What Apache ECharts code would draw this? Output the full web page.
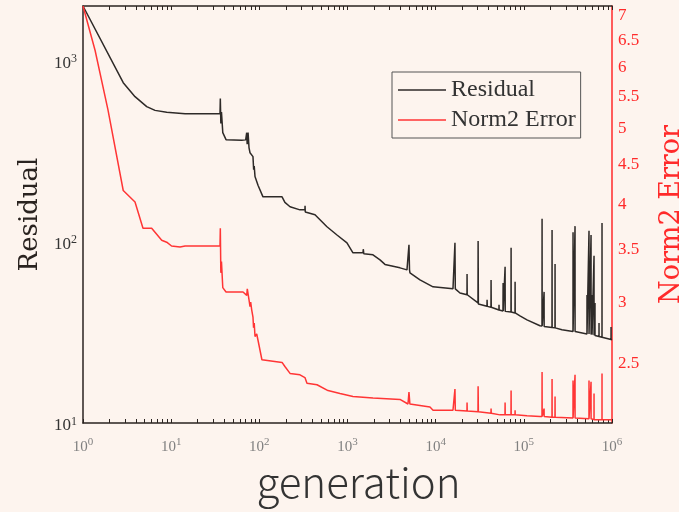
<!DOCTYPE html>
<html>
<head>
<meta charset="utf-8">
<script src="https://cdn.jsdelivr.net/npm/echarts@6/dist/echarts.min.js"></script>
<style>
html,body{margin:0;padding:0;background:#fdf4ee;}
#c{width:679px;height:512px;}
</style>
</head>
<body>
<div id="c"></div>
<script>
// ---- data ----
const resGen = [1,2.86,3.89,5.28,6.56,8.9,14.4,35.8,36.1,36.6,37.2,38.5,41.9,63.1,70,71.9,72.8,74.5,76.4,78.4,84.7,86.2,87.5,89.3,93.4,96.6,110,181,195,223,289,329,330,332,428,585,760,986,1154,1500,1510,1530,1945,2336,2661,3938,4728,4980,5050,5112,6637,9330,15720,16550,16700,18870,22660,22700,22800,30190,30300,30500,38200,38300,38500,42400,42500,42700,52200,52300,52500,58000,58200,58400,61100,61300,61500,71500,71700,71900,79400,79600,79800,90400,108600,152500,160700,161000,161500,169400,169700,170000,208600,209000,209500,225600,226000,226500,270800,361000,361500,362000,380300,380800,381300,520000,520500,521000,548000,548500,549000,578000,578500,579000,593000,593500,594000,625000,625500,626000,641000,641500,642000,712000,712500,713000,770000,770500,771000,975000,975500,976000,1000000];
const resVal = [2000,755,632,557,531,518,508,508,617,450,520,400,366,363,365,400,345,400,330,310,295,250,262,229,225,205,177,177,165,156,150,150,158,146,141,121,109,98.7,86.9,86.9,91,86,84.7,79.5,75,71.8,70,96.2,70,67.4,61.6,56.4,55,98.7,55,52.2,51,66.5,51,46,101,45.4,44.1,47.8,44,43.5,61.6,43.5,42,44.9,42,41.5,59.3,41.5,41.3,72.8,41.3,41,92.7,41,40.5,60.1,40.5,39,37.1,34.4,34.3,134,34.3,34.1,52.9,34.1,33.6,116,33.6,33.5,75.5,33.5,32.7,32,113,32,32,122,32,31,50.9,31,31,115,31,30.8,109,30.8,30.7,50.9,30.7,30.5,83.7,30.5,30.4,46,30.4,30,35.6,30,29.7,127,29.7,28.9,33.9,28.9,28.8];

const errGen = [1,1.37,1.92,2.86,3.89,4.79,6.01,7.81,8.9,10.1,12.6,14.4,35.8,36.1,36.6,37.2,38.5,41.9,65.3,72,73,76.4,78.4,79.8,82,84.7,86,87.5,89.3,93.4,96.6,107,181,195,223,289,329,347,451,601,822,1154,1945,3938,4853,4980,5100,8620,9330,15720,16550,16700,22660,22700,22800,30190,30300,30500,42400,42500,42700,53700,61100,61300,61500,71500,71700,71900,79400,79600,79800,108600,152500,160700,161000,161500,169400,169700,170000,208600,209000,209500,225600,226000,226500,361000,361500,362000,380300,380800,381300,548000,548500,549000,578000,578500,579000,625000,625500,626000,770000,770500,771000,1000000];
const errVal = [7.19,6.31,5.29,4.17,4.03,3.73,3.73,3.60,3.58,3.54,3.53,3.54,3.54,3.73,3.27,3.38,3.13,3.09,3.09,3.06,3.12,3.02,2.96,3.0,2.93,2.87,2.78,2.82,2.71,2.73,2.68,2.53,2.51,2.48,2.43,2.42,2.40,2.36,2.35,2.31,2.29,2.27,2.26,2.25,2.22,2.30,2.22,2.20,2.18,2.18,2.32,2.18,2.175,2.23,2.175,2.17,2.34,2.17,2.16,2.19,2.16,2.15,2.15,2.23,2.15,2.15,2.31,2.15,2.15,2.18,2.15,2.145,2.14,2.14,2.44,2.14,2.14,2.19,2.14,2.135,2.39,2.135,2.135,2.27,2.135,2.13,2.38,2.13,2.13,2.42,2.13,2.125,2.38,2.125,2.125,2.37,2.125,2.12,2.29,2.12,2.12,2.43,2.12,2.12];

// axis ranges and tick labels
const xRange = [1, 1e6];
const resRange = [10, 2000];
const errRange = [2.099, 7.19];
const xDecades = [0,1,2,3,4,5,6];
const xMinorMult = [1,2,3,4,5,6,7,8,9];
const errTicks = [2.5,3,3.5,4,4.5,5,5.5,6,6.5,7];

// ---- build options ----
const L = Math.log10;
const xTickPos = [];
xDecades.forEach(d => {
  if (d === 6) { xTickPos.push(6); return; }
  xMinorMult.forEach(m => xTickPos.push(d + L(m)));
});
const pow10Label = (v) => '{b|10}{s|' + Math.round(v) + '}';

const chart = echarts.init(document.getElementById('c'), null, {renderer: 'canvas'});
const serif = 'Liberation Serif';
const xAxisCommon = {
  type: 'value', min: L(xRange[0]), max: L(xRange[1]), interval: 1,
  axisLine: {show: true, onZero: false, lineStyle: {color: '#2a2320', width: 1.5}},
  axisTick: {show: true, inside: true, length: 4, customValues: xTickPos, lineStyle: {color: '#2a2320', width: 1}},
  splitLine: {show: false}
};
chart.setOption({
  animation: false,
  backgroundColor: '#fdf4ee',
  grid: {left: 83, right: 67, top: 6, bottom: 89, outerBoundsMode: 'none', containLabel: false},
  legend: {
    orient: 'vertical', left: 392, top: 72,
    padding: [6, 5, 6, 6], itemGap: 6, itemWidth: 48, itemHeight: 1.6,
    icon: 'rect',
    borderColor: '#555', borderWidth: 1,
    textStyle: {fontFamily: serif, fontSize: 24, color: '#333'},
    data: ['Residual', 'Norm2 Error']
  },
  xAxis: [
    Object.assign({}, xAxisCommon, {
      position: 'bottom',
      name: 'generation', nameLocation: 'middle', nameGap: 38,
      nameTextStyle: {fontFamily: 'Noto Sans CJK JP', fontWeight: 300, fontSize: 42, color: '#333', padding: [0, 0, 0, 22]},
      axisLabel: {
        margin: 17, formatter: pow10Label,
        rich: {
          b: {fontFamily: serif, fontSize: 15, color: '#808080', verticalAlign: 'bottom', lineHeight: 15},
          s: {fontFamily: serif, fontSize: 11, color: '#808080', verticalAlign: 'bottom', padding: [0, 0, 7, 0], lineHeight: 11}
        }
      }
    }),
    Object.assign({}, xAxisCommon, {
      position: 'top', axisLabel: {show: false}
    })
  ],
  yAxis: [
    {
      type: 'value', min: L(resRange[0]), max: L(resRange[1]), interval: 1,
      position: 'left',
      name: 'Residual', nameLocation: 'middle', nameGap: 40, nameRotate: 90,
      nameTextStyle: {fontFamily: 'DejaVu Serif', fontSize: 26, color: '#2a2320'},
      axisLine: {show: true, onZero: false, lineStyle: {color: '#2a2320', width: 1.5}},
      axisTick: {show: false},
      splitLine: {show: false},
      axisLabel: {
        margin: 6, showMaxLabel: false, formatter: pow10Label, padding: [6, 0, 0, 0],
        rich: {
          b: {fontFamily: serif, fontSize: 17, color: '#333', verticalAlign: 'bottom', lineHeight: 17},
          s: {fontFamily: serif, fontSize: 12, color: '#333', verticalAlign: 'bottom', padding: [0, 0, 7, 0], lineHeight: 12}
        }
      }
    },
    {
      type: 'value', min: L(errRange[0]), max: L(errRange[1]),
      position: 'right',
      name: 'Norm2 Error', nameLocation: 'middle', nameGap: 46, nameRotate: 90,
      nameTextStyle: {fontFamily: 'DejaVu Serif', fontSize: 27, color: '#ff2a2a'},
      axisLine: {show: true, onZero: false, lineStyle: {color: '#ff2a2a', width: 1.5}},
      axisTick: {show: false},
      splitLine: {show: false},
      axisLabel: {
        margin: 6, customValues: errTicks.map(L),
        formatter: v => String(Math.round(Math.pow(10, v) * 10) / 10),
        fontFamily: serif, fontSize: 17, color: '#ff2a2a'
      }
    }
  ],
  series: [
    {
      name: 'Residual', type: 'line', xAxisIndex: 0, yAxisIndex: 0,
      symbol: 'none', showSymbol: false,
      lineStyle: {color: '#2e2a28', width: 1.5}, itemStyle: {color: '#2e2a28'},
      data: resGen.map((g, i) => [L(g), L(resVal[i])])
    },
    {
      name: 'Norm2 Error', type: 'line', xAxisIndex: 0, yAxisIndex: 1,
      symbol: 'none', showSymbol: false,
      lineStyle: {color: '#ff3535', width: 1.5}, itemStyle: {color: '#ff3535'},
      data: errGen.map((g, i) => [L(g), L(errVal[i])])
    }
  ]
});
</script>
</body>
</html>
